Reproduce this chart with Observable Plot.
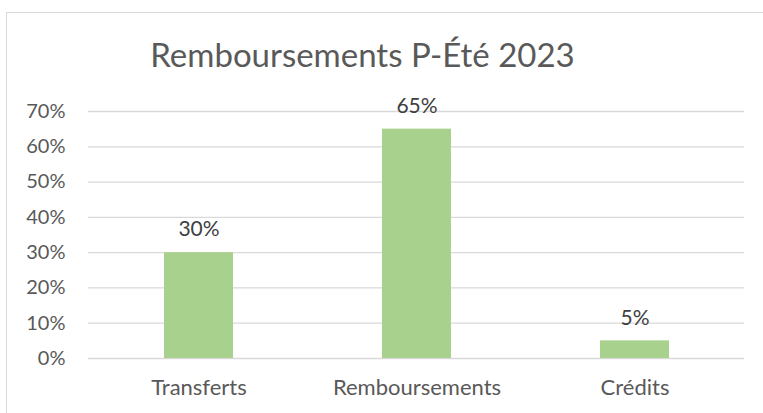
<!DOCTYPE html>
<html><head><meta charset="utf-8">
<script src="https://cdn.jsdelivr.net/npm/d3@7"></script>
<script src="https://cdn.jsdelivr.net/npm/@observablehq/plot@0.6"></script>
<style>
html,body{margin:0;padding:0;background:#fff;overflow:hidden;width:763px;height:413px;}
#wrap{position:relative;width:763px;height:413px;}
#border{position:absolute;left:6px;top:12px;width:800px;height:500px;border:1px solid #D9D9D9;box-sizing:border-box;}
#chart{position:absolute;left:0;top:0;}
</style></head>
<body><div id="wrap"><div id="border"></div><div id="chart"></div></div>
<script>
const title = "Remboursements P-Été 2023";
const categories = ["Transferts", "Remboursements", "Crédits"];
const values = [0.30, 0.65, 0.05];
const yTicks = [0, 0.1, 0.2, 0.3, 0.4, 0.5, 0.6, 0.7];

const data = categories.map((c, i) => ({category: c, value: values[i]}));
const fmt = d3.format(".0%");
const font = "Lato, 'Open Sans', sans-serif";

const chart = Plot.plot({
  width: 763,
  height: 413,
  marginLeft: 88,
  marginRight: 19,
  marginTop: 111,
  marginBottom: 55,
  style: {fontFamily: font, fontSize: "20px", color: "#595959", background: "transparent"},
  x: {domain: categories, paddingInner: 0.684, paddingOuter: 0.342, label: null},
  y: {domain: [0, 0.7], label: null},
  marks: [
    Plot.gridY(yTicks, {stroke: "#D9D9D9", strokeOpacity: 1, strokeWidth: 1.3}),
    Plot.axisY(yTicks, {tickSize: 0, tickPadding: 23, tickFormat: fmt, fontSize: 20, fill: "#595959", label: null}),
    Plot.axisX({tickSize: 0, tickPadding: 21, fontSize: 22, fill: "#595959", label: null}),
    Plot.barY(data, {x: "category", y: "value", fill: "#A9D18E"}),
    Plot.text(data, {x: "category", y: "value", text: d => fmt(d.value), dy: -23, fontSize: 21, fill: "#404040"}),
    Plot.text([title], {frameAnchor: "top", text: d => d, dy: -68, dx: -54, fontSize: 33, fill: "#595959"})
  ]
});
document.getElementById("chart").appendChild(chart);
</script></body></html>
